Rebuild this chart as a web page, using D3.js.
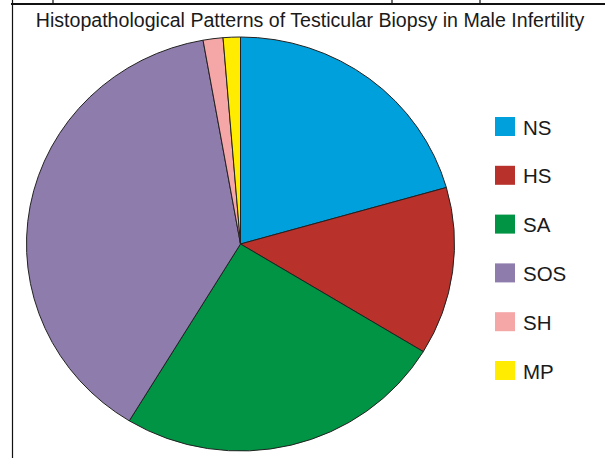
<!DOCTYPE html>
<html>
<head>
<meta charset="utf-8">
<script src="https://cdn.jsdelivr.net/npm/d3@7"></script>
<style>
  body { margin: 0; background: #fff; }
  text { font-family: "Liberation Sans", Arial, sans-serif; fill: #1a1a1a; }
</style>
</head>
<body>
<div id="chart"></div>
<script>
// pie data (percent)
const categories = ["NS", "HS", "SA", "SOS", "SH", "MP"];
const values = [20.6, 13.1, 25.0, 38.5, 1.5, 1.3];
const colors = ["#00a0dc", "#b8312b", "#009444", "#8e7cad", "#f5a6a6", "#ffec00"];
const title = "Histopathological Patterns of Testicular Biopsy in Male Infertility";

const width = 605, height = 458;
const svg = d3.select("#chart").append("svg")
    .attr("width", width)
    .attr("height", height);

// frame remnants
svg.append("line").attr("x1", 11).attr("x2", width).attr("y1", 4).attr("y2", 4)
    .attr("stroke", "#111").attr("stroke-width", 2.2);
svg.append("line").attr("x1", 12.5).attr("x2", 12.5).attr("y1", 0).attr("y2", height)
    .attr("stroke", "#111").attr("stroke-width", 1.2);
[53, 392, 480].forEach(x => {
    svg.append("line").attr("x1", x).attr("x2", x).attr("y1", 0).attr("y2", 4)
        .attr("stroke", "#111").attr("stroke-width", 1.2);
});

svg.append("text")
    .attr("x", 310)
    .attr("y", 27)
    .attr("text-anchor", "middle")
    .style("font-size", "19.6px")
    .text(title);

const data = categories.map((c, i) => ({ name: c, value: values[i], color: colors[i] }));
const pie = d3.pie().sort(null).value(d => d.value);
const r = 214;
const arc = d3.arc().innerRadius(0).outerRadius(r);

const g = svg.append("g")
    .attr("transform", `translate(240.5,244) scale(1,${207 / 214})`);
g.selectAll("path")
    .data(pie(data))
    .join("path")
    .attr("d", arc)
    .attr("fill", d => d.data.color)
    .attr("stroke", "#222")
    .attr("stroke-width", 1)
    .attr("vector-effect", "non-scaling-stroke");

// legend
const ly = d3.scaleBand().domain(categories).range([117, 117 + 48.8 * 6]);
const leg = svg.append("g").selectAll("g")
    .data(data)
    .join("g")
    .attr("transform", d => `translate(495,${ly(d.name)})`);
leg.append("rect")
    .attr("width", 20)
    .attr("height", 19)
    .attr("fill", d => d.color);
leg.append("text")
    .attr("x", 28)
    .attr("y", 17.5)
    .style("font-size", "20.5px")
    .text(d => d.name);
</script>
</body>
</html>
